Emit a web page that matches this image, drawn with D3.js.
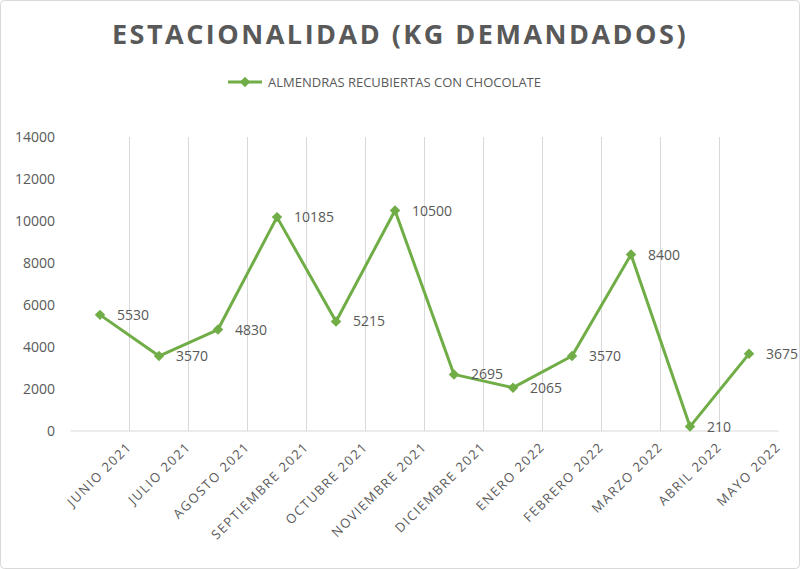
<!DOCTYPE html>
<html><head><meta charset="utf-8">
<script src="https://cdn.jsdelivr.net/npm/d3@7"></script>
<style>body{margin:0;background:#fff}svg{display:block}text{font-family:"Open Sans","DejaVu Sans",sans-serif}</style>
</head><body><svg id="c" width="800" height="569"></svg>
<script>
const categories=["JUNIO 2021","JULIO 2021","AGOSTO 2021","SEPTIEMBRE 2021","OCTUBRE 2021","NOVIEMBRE 2021","DICIEMBRE 2021","ENERO 2022","FEBRERO 2022","MARZO 2022","ABRIL 2022","MAYO 2022"];
const values=[5530,3570,4830,10185,5215,10500,2695,2065,3570,8400,210,3675];
const yTicks=[0,2000,4000,6000,8000,10000,12000,14000];
const seriesName="ALMENDRAS RECUBIERTAS CON CHOCOLATE";
const title="ESTACIONALIDAD (KG DEMANDADOS)";
const color="#70AD47", gray="#595959";
const svg=d3.select("#c");
svg.append("rect").attr("x",0.5).attr("y",0.5).attr("width",799).attr("height",568).attr("rx",4).attr("fill","#fff").attr("stroke","#d9d9d9");
const x=d3.scaleBand().domain(categories).range([70.5,778.5]);
const y=d3.scaleLinear().domain([0,14000]).range([431,137]);
const g=svg.append("g");
categories.slice(1).forEach(c=>{g.append("line").attr("x1",x(c)).attr("x2",x(c)).attr("y1",y(14000)).attr("y2",y(0)).attr("stroke","#d9d9d9");});
g.append("line").attr("x1",70.5).attr("x2",778.5).attr("y1",y(0)).attr("y2",y(0)).attr("stroke","#d9d9d9");
const ya=svg.append("g").attr("transform","translate(58,0)").call(d3.axisLeft(y).tickValues(yTicks).tickSize(0).tickFormat(d3.format("d")));
ya.select(".domain").remove();
ya.selectAll("text").attr("fill",gray).style("font-size","14px").attr("dx",0);
const xa=svg.append("g").attr("transform",`translate(0,${y(0)})`).call(d3.axisBottom(x).tickSize(0));
xa.select(".domain").remove();
xa.selectAll("text").attr("fill",gray).style("font-size","13px").style("letter-spacing","1.5px").attr("text-anchor","end").attr("transform","translate(24,8) rotate(-45)").attr("dy","0.7em");
const cx=d=>x(d)+x.bandwidth()/2;
const line=d3.line().x((d,i)=>cx(categories[i])).y(d=>y(d));
svg.append("path").datum(values).attr("d",line).attr("fill","none").attr("stroke",color).attr("stroke-width",3).attr("stroke-linejoin","round");
const sym=d3.symbol().type(d3.symbolDiamond2).size(70);
svg.selectAll(".m").data(values).join("path").attr("d",sym).attr("fill",color).attr("transform",(d,i)=>`translate(${cx(categories[i])},${y(d)})`);
svg.selectAll(".l").data(values).join("text").attr("x",(d,i)=>cx(categories[i])+17).attr("y",d=>y(d)+5).attr("fill",gray).style("font-size","14px").text(d=>d);
svg.append("text").attr("x",400).attr("y",44).attr("text-anchor","middle").attr("fill",gray).style("font-size","27px").style("font-weight","bold").style("letter-spacing","2.5px").text(title);
svg.append("line").attr("x1",228).attr("x2",262).attr("y1",82).attr("y2",82).attr("stroke",color).attr("stroke-width",3);
svg.append("path").attr("d",sym).attr("fill",color).attr("transform","translate(245,82)");
svg.append("text").attr("x",268).attr("y",87).attr("fill",gray).style("font-size","13px").text(seriesName);
</script></body></html>
